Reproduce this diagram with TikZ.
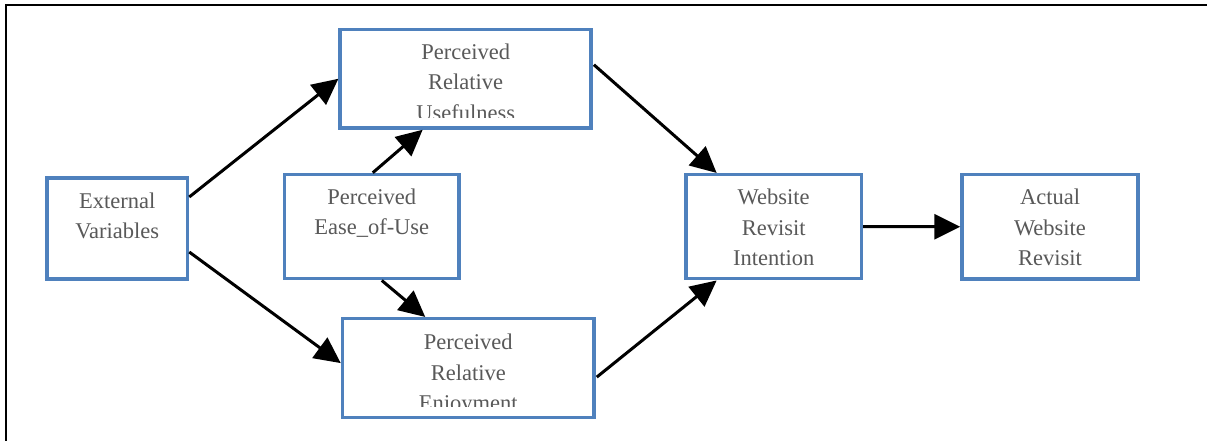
\documentclass[tikz,border=0pt]{standalone}
\usepackage{fontspec}
\setmainfont{Liberation Serif}
\usetikzlibrary{arrows.meta,calc}
\definecolor{boxblue}{HTML}{4F81BD}
\definecolor{txtgrey}{HTML}{595959}
\tikzset{
  box/.style={draw=boxblue, line width=3.5pt, fill=white, inner sep=0pt},
  txt/.style={anchor=north, inner sep=0pt, align=center, text=txtgrey,
    font=\fontsize{22.5}{30.3}\selectfont},
  conn/.style={line width=3pt, -{Triangle[length=26pt,width=25pt]}},
  frameline/.style={line width=2pt}
}
\begin{document}
\begin{tikzpicture}[x=1pt,y=-1pt]
\useasboundingbox (0,0) rectangle (1207,441);
\draw[frameline] (6,441) -- (6,5) -- (1207,5);

\node[box, minimum width=140.5pt, minimum height=101pt] (ev) at (117.25,228.5) {};
\node[box, minimum width=251pt, minimum height=98.5pt] (pru) at (465.65,78.75) {};
\node[box, minimum width=174.5pt, minimum height=104.2pt] (peou) at (371.75,226.6) {};
\node[box, minimum width=251.5pt, minimum height=98.8pt] (pre) at (468.25,368.1) {};
\node[box, minimum width=175.3pt, minimum height=104pt] (wri) at (773.65,226.7) {};
\node[box, minimum width=176pt, minimum height=104.1pt] (awr) at (1050,226.75) {};

\node[txt] (tev) at ($(ev.north)+(0,16.5)$) {External\\Variables};
\begin{scope}
\clip ($(pru.north west)+(4,4)$) rectangle ($(pru.south east)+(-4,-12.5)$);
\node[txt] (tpru) at ($(pru.north)+(0,16)$) {Perceived\\Relative\\Usefulness};
\end{scope}
\node[txt] (tpeou) at ($(peou.north)+(0,16)$) {Perceived\\Ease\_of-Use};
\begin{scope}
\clip ($(pre.north west)+(4,4)$) rectangle ($(pre.south east)+(-4,-12.5)$);
\node[txt] (tpre) at ($(pre.north)+(0,17)$) {Perceived\\Relative\\Enjoyment};
\end{scope}
\node[txt] (twri) at ($(wri.north)+(0,16)$) {Website\\Revisit\\Intention};
\node[txt] (tawr) at ($(awr.north)+(0,16)$) {Actual\\Website\\Revisit};

\draw[conn] ($(ev.east)+(0,-31.5)$) -- (pru.west);
\draw[conn] ($(ev.east)+(0,23.5)$) -- ($(pre.west)+(0,-5)$);
\draw[conn] ($(peou.north)+(1,0)$) -- ($(pru.south)+(-43,0)$);
\draw[conn] ($(peou.south)+(10,0)$) -- ($(pre.north)+(-43,0)$);
\draw[conn] ($(pru.east)+(1,-14)$) -- ($(wri.north)+(-57,0)$);
\draw[conn] ($(pre.east)+(1,9)$) -- ($(wri.south)+(-57,0)$);
\draw[conn] (wri.east) -- (awr.west);
\end{tikzpicture}
\end{document}
